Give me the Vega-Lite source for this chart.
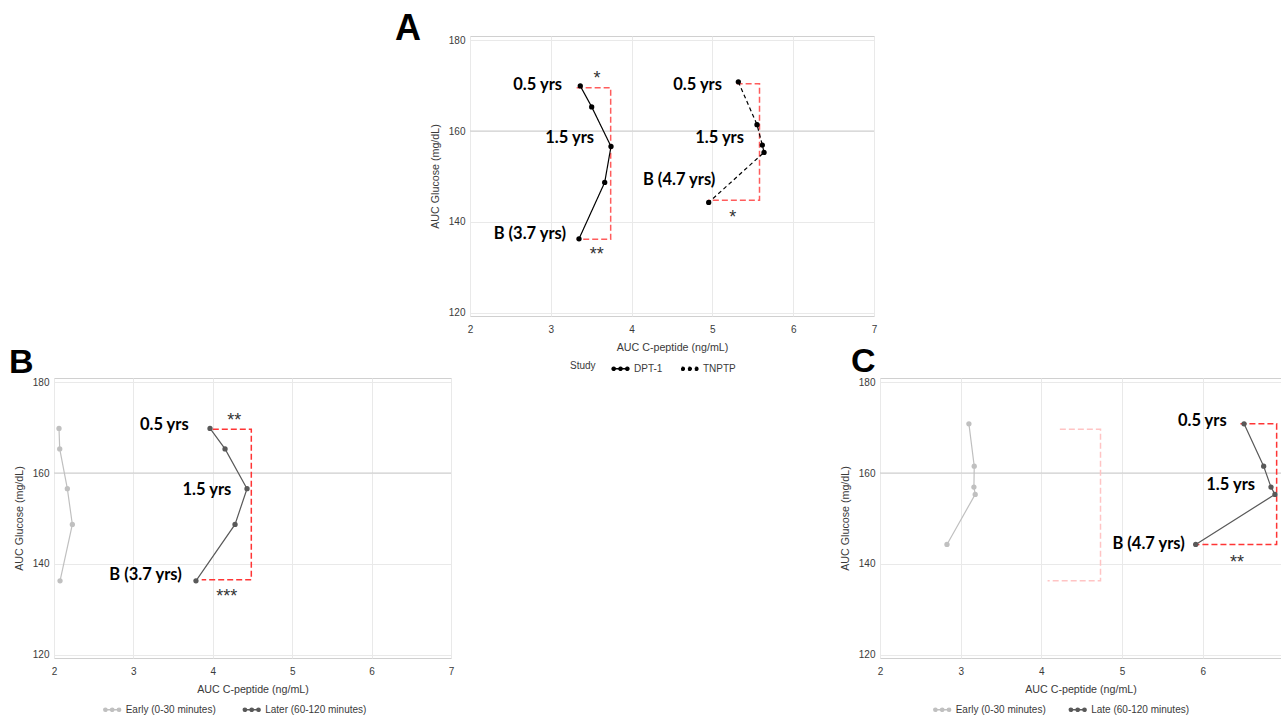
{
"$schema": "https://vega.github.io/schema/vega-lite/v6.json",
"padding": {"left": 8, "top": 10, "right": 0, "bottom": 0},
"background": "white",
"config": {
 "font": "Liberation Sans",
 "view": {"stroke": "#d0d0d0"},
 "axis": {"grid": true, "gridColor": "#e9e9e9", "gridWidth": 1, "domain": false, "ticks": false, "labelFontSize": 10, "labelColor": "#3a3a3a", "labelFlush": false, "titleFontSize": 10.7, "titleFontWeight": "normal", "titleColor": "#3a3a3a", "format": "d"},
 "axisX": {"labelPadding": 8, "titlePadding": 8},
 "axisY": {"labelPadding": 5, "titlePadding": 8},
 "legend": {"labelFontSize": 10, "labelColor": "#3a3a3a", "titleFontSize": 10, "titleFontWeight": "normal", "titleColor": "#3a3a3a", "symbolType": "M-1,0L1,0M-0.6,0A0.2,0.2,0,1,1,-1,0A0.2,0.2,0,1,1,-0.6,0M0.2,0A0.2,0.2,0,1,1,-0.2,0A0.2,0.2,0,1,1,0.2,0M1,0A0.2,0.2,0,1,1,0.6,0A0.2,0.2,0,1,1,1,0", "symbolSize": 289, "symbolStrokeWidth": 1.3, "labelOffset": 4, "padding": 0},
 "title": {"fontSize": 36, "fontWeight": "bold", "color": "#000", "anchor": "start", "frame": "group", "font": "Liberation Sans", "baseline": "alphabetic", "offset": 0}
},
"datasets": {
 "ref": [{"glu": 160}],
 "blank": [{"t": ""}],
 "aPts": [
  {"study":"DPT-1","seq":1,"cpep":3.365,"glu":169.9},
  {"study":"DPT-1","seq":2,"cpep":3.506,"glu":165.3},
  {"study":"DPT-1","seq":3,"cpep":3.745,"glu":156.6},
  {"study":"DPT-1","seq":4,"cpep":3.667,"glu":148.7},
  {"study":"DPT-1","seq":5,"cpep":3.349,"glu":136.3},
  {"study":"TNPTP","seq":1,"cpep":5.321,"glu":170.8},
  {"study":"TNPTP","seq":2,"cpep":5.552,"glu":161.4},
  {"study":"TNPTP","seq":3,"cpep":5.618,"glu":156.9},
  {"study":"TNPTP","seq":4,"cpep":5.639,"glu":155.3},
  {"study":"TNPTP","seq":5,"cpep":4.954,"glu":144.3}
 ],
 "aBr": [
  {"id":"d","seq":1,"cpep":3.32,"glu":169.5},{"id":"d","seq":2,"cpep":3.741,"glu":169.5},{"id":"d","seq":3,"cpep":3.741,"glu":136.2},{"id":"d","seq":4,"cpep":3.32,"glu":136.2},
  {"id":"t","seq":1,"cpep":5.30,"glu":170.4},{"id":"t","seq":2,"cpep":5.583,"glu":170.4},{"id":"t","seq":3,"cpep":5.583,"glu":144.8},{"id":"t","seq":4,"cpep":4.95,"glu":144.8}
 ],
 "aLab": [
  {"lab":"0.5 yrs","cpep":3.139,"glu":170.4},
  {"lab":"1.5 yrs","cpep":3.535,"glu":158.7},
  {"lab":"B (3.7 yrs)","cpep":3.188,"glu":137.65},
  {"lab":"0.5 yrs","cpep":5.119,"glu":170.4},
  {"lab":"1.5 yrs","cpep":5.391,"glu":158.7},
  {"lab":"B (4.7 yrs)","cpep":5.036,"glu":149.4}
 ],
 "aStar": [{"s":"*","cpep":3.572,"glu":172.5},{"s":"**","cpep":3.568,"glu":133.8},{"s":"*","cpep":5.251,"glu":142.0}],
 "bPts": [
  {"series":"Early (0-30 minutes)","seq":1,"cpep":2.063,"glu":169.8},
  {"series":"Early (0-30 minutes)","seq":2,"cpep":2.072,"glu":165.3},
  {"series":"Early (0-30 minutes)","seq":3,"cpep":2.168,"glu":156.55},
  {"series":"Early (0-30 minutes)","seq":4,"cpep":2.231,"glu":148.7},
  {"series":"Early (0-30 minutes)","seq":5,"cpep":2.076,"glu":136.3},
  {"series":"Later (60-120 minutes)","seq":1,"cpep":3.965,"glu":169.8},
  {"series":"Later (60-120 minutes)","seq":2,"cpep":4.154,"glu":165.3},
  {"series":"Later (60-120 minutes)","seq":3,"cpep":4.431,"glu":156.55},
  {"series":"Later (60-120 minutes)","seq":4,"cpep":4.280,"glu":148.7},
  {"series":"Later (60-120 minutes)","seq":5,"cpep":3.788,"glu":136.3}
 ],
 "bBr": [{"seq":1,"cpep":4.0,"glu":169.6},{"seq":2,"cpep":4.485,"glu":169.6},{"seq":3,"cpep":4.485,"glu":136.55},{"seq":4,"cpep":3.86,"glu":136.55}],
 "bLab": [{"lab":"0.5 yrs","cpep":3.696,"glu":170.7},{"lab":"1.5 yrs","cpep":4.233,"glu":156.55},{"lab":"B (3.7 yrs)","cpep":3.608,"glu":137.7}],
 "bStar": [{"s":"**","cpep":4.271,"glu":172.5},{"s":"***","cpep":4.175,"glu":133.9}],
 "cPts": [
  {"series":"Early (0-30 minutes)","seq":1,"cpep":3.102,"glu":170.8},
  {"series":"Early (0-30 minutes)","seq":2,"cpep":3.168,"glu":161.5},
  {"series":"Early (0-30 minutes)","seq":3,"cpep":3.164,"glu":156.9},
  {"series":"Early (0-30 minutes)","seq":4,"cpep":3.180,"glu":155.3},
  {"series":"Early (0-30 minutes)","seq":5,"cpep":2.830,"glu":144.3},
  {"series":"Late (60-120 minutes)","seq":1,"cpep":6.512,"glu":170.8},
  {"series":"Late (60-120 minutes)","seq":2,"cpep":6.755,"glu":161.5},
  {"series":"Late (60-120 minutes)","seq":3,"cpep":6.846,"glu":156.9},
  {"series":"Late (60-120 minutes)","seq":4,"cpep":6.895,"glu":155.3},
  {"series":"Late (60-120 minutes)","seq":5,"cpep":5.913,"glu":144.3}
 ],
 "cBr": [{"seq":1,"cpep":6.467,"glu":170.8},{"seq":2,"cpep":6.916,"glu":170.8},{"seq":3,"cpep":6.916,"glu":144.3},{"seq":4,"cpep":5.873,"glu":144.3}],
 "cBrFaded": [{"seq":1,"cpep":4.229,"glu":169.6},{"seq":2,"cpep":4.733,"glu":169.6},{"seq":3,"cpep":4.733,"glu":136.3},{"seq":4,"cpep":4.077,"glu":136.3}],
 "cLab": [{"lab":"0.5 yrs","cpep":6.297,"glu":171.6},{"lab":"1.5 yrs","cpep":6.648,"glu":157.5},{"lab":"B (4.7 yrs)","cpep":5.777,"glu":144.7}],
 "cStar": [{"s":"**","cpep":6.425,"glu":141.4}]
},
"bounds": "flush",
"align": "each",
"columns": 3,
"spacing": {"row": 62, "column": 6},
"resolve": {"scale": {"color": "independent", "strokeDash": "independent"}, "legend": {"color": "independent", "strokeDash": "independent"}},
"concat": [
  {"width": 410, "height": 280, "view": {"stroke": null}, "data": {"name": "blank"}, "mark": {"type": "text"}, "encoding": {"text": {"field": "t"}}},
  {"width": 404, "height": 280,
   "title": {"text": "A", "fontSize": 36, "dx": -75, "dy": 17.3},
   "layer": [
    {"data": {"name": "ref"}, "mark": {"type": "rule", "color": "#cccccc", "strokeWidth": 1},
     "encoding": {"y": {"field": "glu", "type": "quantitative", "title": "AUC Glucose (mg/dL)", "scale": {"domain": [119.34, 180.88], "nice": false, "zero": false}, "axis": {"values": [120, 140, 160, 180]}}}},
    {"data": {"name": "aBr"}, "mark": {"type": "line", "color": "#ff5c5c", "strokeDash": [6, 3], "strokeWidth": 1.5},
     "encoding": {
      "x": {"field": "cpep", "type": "quantitative", "title": "AUC C-peptide (ng/mL)", "scale": {"domain": [2, 7], "nice": false, "zero": false}, "axis": {"values": [2, 3, 4, 5, 6, 7]}},
      "y": {"field": "glu", "type": "quantitative", "title": "AUC Glucose (mg/dL)", "scale": {"domain": [119.34, 180.88], "nice": false, "zero": false}},
      "detail": {"field": "id"}, "order": {"field": "seq"}}},
    {"data": {"name": "aPts"}, "mark": {"type": "line", "color": "#000000", "strokeWidth": 1.2},
     "encoding": {
      "x": {"field": "cpep", "type": "quantitative", "title": "AUC C-peptide (ng/mL)", "scale": {"domain": [2, 7], "nice": false, "zero": false}},
      "y": {"field": "glu", "type": "quantitative", "title": "AUC Glucose (mg/dL)", "scale": {"domain": [119.34, 180.88], "nice": false, "zero": false}},
      "order": {"field": "seq"},
      "strokeDash": {"field": "study", "type": "nominal", "scale": {"domain": ["DPT-1", "TNPTP"], "range": [[1, 0], [4, 3]]},
       "legend": {"title": "Study", "orient": "none", "legendX": 100, "legendY": 323, "direction": "horizontal", "titleOrient": "left", "titlePadding": 15, "columnPadding": 15, "symbolFillColor": "#000000", "symbolStrokeColor": "#000000"}}}},
    {"data": {"name": "aPts"}, "mark": {"type": "circle", "size": 28, "color": "#000000", "opacity": 1},
     "encoding": {
      "x": {"field": "cpep", "type": "quantitative", "title": "AUC C-peptide (ng/mL)", "scale": {"domain": [2, 7], "nice": false, "zero": false}},
      "y": {"field": "glu", "type": "quantitative", "title": "AUC Glucose (mg/dL)", "scale": {"domain": [119.34, 180.88], "nice": false, "zero": false}},
      "detail": {"field": "study"}}},
    {"data": {"name": "aLab"}, "mark": {"type": "text", "font": "Lato", "fontWeight": "bold", "fontSize": 16.5, "align": "right", "baseline": "alphabetic", "dy": 6, "color": "#000000"},
     "encoding": {
      "x": {"field": "cpep", "type": "quantitative", "title": "AUC C-peptide (ng/mL)", "scale": {"domain": [2, 7], "nice": false, "zero": false}},
      "y": {"field": "glu", "type": "quantitative", "title": "AUC Glucose (mg/dL)", "scale": {"domain": [119.34, 180.88], "nice": false, "zero": false}},
      "text": {"field": "lab"}}},
    {"data": {"name": "aStar"}, "mark": {"type": "text", "fontSize": 18, "align": "center", "baseline": "alphabetic", "dy": 10, "color": "#333333"},
     "encoding": {
      "x": {"field": "cpep", "type": "quantitative", "title": "AUC C-peptide (ng/mL)", "scale": {"domain": [2, 7], "nice": false, "zero": false}},
      "y": {"field": "glu", "type": "quantitative", "title": "AUC Glucose (mg/dL)", "scale": {"domain": [119.34, 180.88], "nice": false, "zero": false}},
      "text": {"field": "s"}}}
   ]},
  {"width": 1, "height": 280, "view": {"stroke": null}, "data": {"name": "blank"}, "mark": {"type": "text"}, "encoding": {"text": {"field": "t"}}},
  {"width": 397, "height": 280,
   "title": {"text": "B", "fontSize": 34, "dx": -45, "dy": 7.3},
   "layer": [
    {"data": {"name": "ref"}, "mark": {"type": "rule", "color": "#cccccc", "strokeWidth": 1},
     "encoding": {"y": {"field": "glu", "type": "quantitative", "title": "AUC Glucose (mg/dL)", "scale": {"domain": [119.34, 180.88], "nice": false, "zero": false}, "axis": {"values": [120, 140, 160, 180]}}}},
    {"data": {"name": "bBr"}, "mark": {"type": "line", "color": "#ff3535", "strokeDash": [6, 3], "strokeWidth": 1.5},
     "encoding": {
      "x": {"field": "cpep", "type": "quantitative", "title": "AUC C-peptide (ng/mL)", "scale": {"domain": [2, 7], "nice": false, "zero": false}, "axis": {"values": [2, 3, 4, 5, 6, 7]}},
      "y": {"field": "glu", "type": "quantitative", "title": "AUC Glucose (mg/dL)", "scale": {"domain": [119.34, 180.88], "nice": false, "zero": false}},
      "order": {"field": "seq"}}},
    {"data": {"name": "bPts"}, "mark": {"type": "line", "strokeWidth": 1.2},
     "encoding": {
      "x": {"field": "cpep", "type": "quantitative", "title": "AUC C-peptide (ng/mL)", "scale": {"domain": [2, 7], "nice": false, "zero": false}},
      "y": {"field": "glu", "type": "quantitative", "title": "AUC Glucose (mg/dL)", "scale": {"domain": [119.34, 180.88], "nice": false, "zero": false}},
      "order": {"field": "seq"},
      "color": {"field": "series", "type": "nominal", "scale": {"domain": ["Early (0-30 minutes)", "Later (60-120 minutes)"], "range": ["#c0c0c0", "#595959"]},
       "legend": {"title": null, "orient": "none", "legendX": 48.7, "legendY": 322, "direction": "horizontal", "columnPadding": 23.5}}}},
    {"data": {"name": "bPts"}, "mark": {"type": "circle", "size": 28, "opacity": 1},
     "encoding": {
      "x": {"field": "cpep", "type": "quantitative", "title": "AUC C-peptide (ng/mL)", "scale": {"domain": [2, 7], "nice": false, "zero": false}},
      "y": {"field": "glu", "type": "quantitative", "title": "AUC Glucose (mg/dL)", "scale": {"domain": [119.34, 180.88], "nice": false, "zero": false}},
      "color": {"field": "series", "type": "nominal", "scale": {"domain": ["Early (0-30 minutes)", "Later (60-120 minutes)"], "range": ["#c0c0c0", "#595959"]}, "legend": null}}},
    {"data": {"name": "bLab"}, "mark": {"type": "text", "font": "Lato", "fontWeight": "bold", "fontSize": 16.5, "align": "right", "baseline": "alphabetic", "dy": 6, "color": "#000000"},
     "encoding": {
      "x": {"field": "cpep", "type": "quantitative", "title": "AUC C-peptide (ng/mL)", "scale": {"domain": [2, 7], "nice": false, "zero": false}},
      "y": {"field": "glu", "type": "quantitative", "title": "AUC Glucose (mg/dL)", "scale": {"domain": [119.34, 180.88], "nice": false, "zero": false}},
      "text": {"field": "lab"}}},
    {"data": {"name": "bStar"}, "mark": {"type": "text", "fontSize": 18, "align": "center", "baseline": "alphabetic", "dy": 10, "color": "#333333"},
     "encoding": {
      "x": {"field": "cpep", "type": "quantitative", "title": "AUC C-peptide (ng/mL)", "scale": {"domain": [2, 7], "nice": false, "zero": false}},
      "y": {"field": "glu", "type": "quantitative", "title": "AUC Glucose (mg/dL)", "scale": {"domain": [119.34, 180.88], "nice": false, "zero": false}},
      "text": {"field": "s"}}}
   ]},
  {"width": 1, "height": 280, "view": {"stroke": null}, "data": {"name": "blank"}, "mark": {"type": "text"}, "encoding": {"text": {"field": "t"}}},
  {"width": 401, "height": 280,
   "title": {"text": "C", "fontSize": 34, "dx": -29, "dy": 5.8},
   "layer": [
    {"data": {"name": "ref"}, "mark": {"type": "rule", "color": "#cccccc", "strokeWidth": 1},
     "encoding": {"y": {"field": "glu", "type": "quantitative", "title": "AUC Glucose (mg/dL)", "scale": {"domain": [119.34, 180.88], "nice": false, "zero": false}, "axis": {"values": [120, 140, 160, 180]}}}},
    {"data": {"name": "cBrFaded"}, "mark": {"type": "line", "color": "#ffc4c4", "strokeDash": [6, 3], "strokeWidth": 1.5},
     "encoding": {
      "x": {"field": "cpep", "type": "quantitative", "title": "AUC C-peptide (ng/mL)", "scale": {"domain": [2, 6.97], "nice": false, "zero": false}, "axis": {"values": [2, 3, 4, 5, 6]}},
      "y": {"field": "glu", "type": "quantitative", "title": "AUC Glucose (mg/dL)", "scale": {"domain": [119.34, 180.88], "nice": false, "zero": false}},
      "order": {"field": "seq"}}},
    {"data": {"name": "cBr"}, "mark": {"type": "line", "color": "#ff3535", "strokeDash": [6, 3], "strokeWidth": 1.5},
     "encoding": {
      "x": {"field": "cpep", "type": "quantitative", "title": "AUC C-peptide (ng/mL)", "scale": {"domain": [2, 6.97], "nice": false, "zero": false}},
      "y": {"field": "glu", "type": "quantitative", "title": "AUC Glucose (mg/dL)", "scale": {"domain": [119.34, 180.88], "nice": false, "zero": false}},
      "order": {"field": "seq"}}},
    {"data": {"name": "cPts"}, "mark": {"type": "line", "strokeWidth": 1.2},
     "encoding": {
      "x": {"field": "cpep", "type": "quantitative", "title": "AUC C-peptide (ng/mL)", "scale": {"domain": [2, 6.97], "nice": false, "zero": false}},
      "y": {"field": "glu", "type": "quantitative", "title": "AUC Glucose (mg/dL)", "scale": {"domain": [119.34, 180.88], "nice": false, "zero": false}},
      "order": {"field": "seq"},
      "color": {"field": "series", "type": "nominal", "scale": {"domain": ["Early (0-30 minutes)", "Late (60-120 minutes)"], "range": ["#c0c0c0", "#595959"]},
       "legend": {"title": null, "orient": "none", "legendX": 52.7, "legendY": 322, "direction": "horizontal", "columnPadding": 19.5}}}},
    {"data": {"name": "cPts"}, "mark": {"type": "circle", "size": 28, "opacity": 1},
     "encoding": {
      "x": {"field": "cpep", "type": "quantitative", "title": "AUC C-peptide (ng/mL)", "scale": {"domain": [2, 6.97], "nice": false, "zero": false}},
      "y": {"field": "glu", "type": "quantitative", "title": "AUC Glucose (mg/dL)", "scale": {"domain": [119.34, 180.88], "nice": false, "zero": false}},
      "color": {"field": "series", "type": "nominal", "scale": {"domain": ["Early (0-30 minutes)", "Late (60-120 minutes)"], "range": ["#c0c0c0", "#595959"]}, "legend": null}}},
    {"data": {"name": "cLab"}, "mark": {"type": "text", "font": "Lato", "fontWeight": "bold", "fontSize": 16.5, "align": "right", "baseline": "alphabetic", "dy": 6, "color": "#000000"},
     "encoding": {
      "x": {"field": "cpep", "type": "quantitative", "title": "AUC C-peptide (ng/mL)", "scale": {"domain": [2, 6.97], "nice": false, "zero": false}},
      "y": {"field": "glu", "type": "quantitative", "title": "AUC Glucose (mg/dL)", "scale": {"domain": [119.34, 180.88], "nice": false, "zero": false}},
      "text": {"field": "lab"}}},
    {"data": {"name": "cStar"}, "mark": {"type": "text", "fontSize": 18, "align": "center", "baseline": "alphabetic", "dy": 10, "color": "#333333"},
     "encoding": {
      "x": {"field": "cpep", "type": "quantitative", "title": "AUC C-peptide (ng/mL)", "scale": {"domain": [2, 6.97], "nice": false, "zero": false}},
      "y": {"field": "glu", "type": "quantitative", "title": "AUC Glucose (mg/dL)", "scale": {"domain": [119.34, 180.88], "nice": false, "zero": false}},
      "text": {"field": "s"}}}
   ]}
]
}
